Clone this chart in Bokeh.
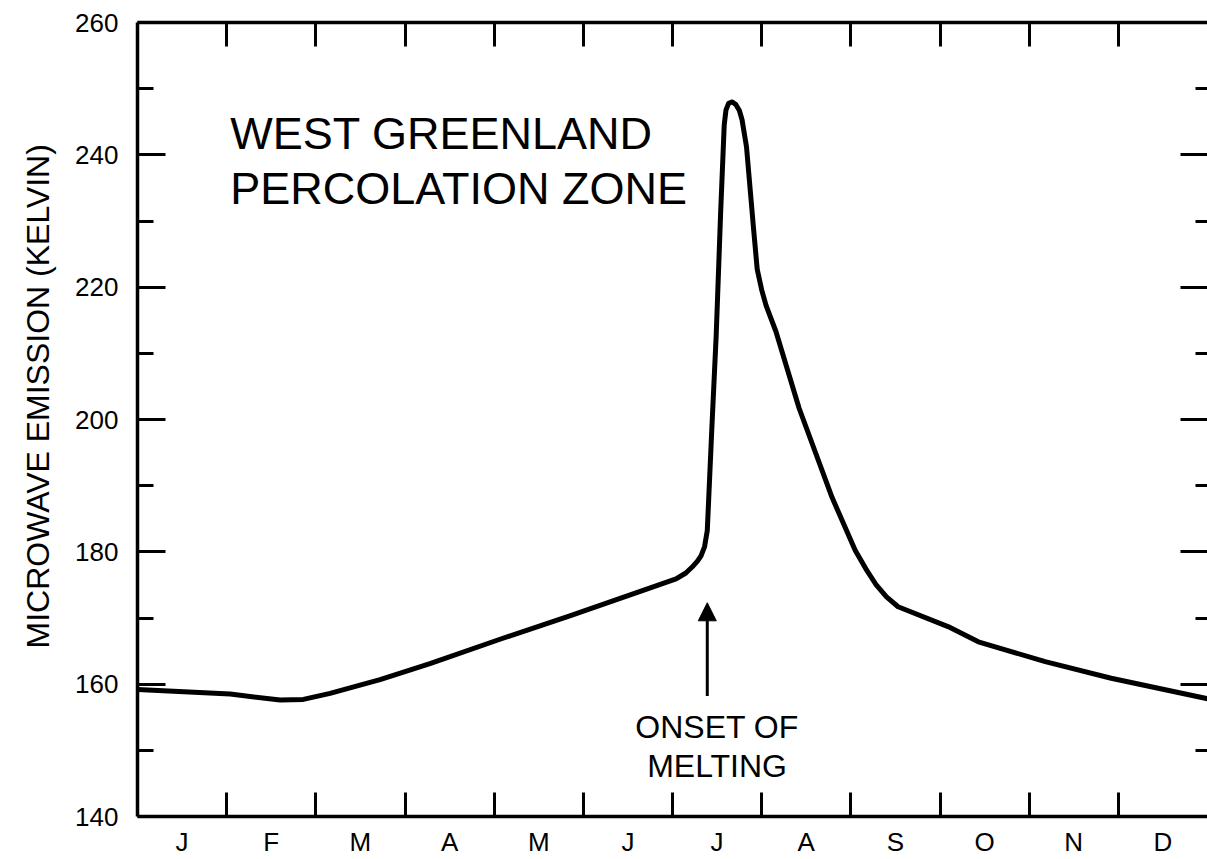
from bokeh.plotting import figure
from bokeh.models import Range1d, LinearAxis, FixedTicker, Label, Arrow, NormalHead, ColumnDataSource, Title
from bokeh.embed import file_html
from bokeh.resources import INLINE

# ---- data ----
month_letters = ["J", "F", "M", "A", "M", "J", "J", "A", "S", "O", "N", "D"]
month_centers = [0.5, 1.5, 2.5, 3.5, 4.5, 5.5, 6.5, 7.5, 8.5, 9.5, 10.5, 11.5]
month_bounds = [1, 2, 3, 4, 5, 6, 7, 8, 9, 10, 11]
y_major = [140, 160, 180, 200, 220, 240, 260]
y_minor = [150, 170, 190, 210, 230, 250]

# time in months since 1 Jan, emission in Kelvin
t_month = [0.0, 1.04, 1.60, 1.86, 2.16, 2.72, 3.28, 4.09, 4.84, 5.59, 6.04, 6.15, 6.22,
           6.28, 6.32, 6.36, 6.39, 6.44, 6.49, 6.54, 6.58, 6.60, 6.63, 6.67, 6.71, 6.75,
           6.78, 6.83, 6.91, 6.95, 7.00, 7.05, 7.16, 7.42, 7.79, 8.05, 8.17, 8.28, 8.40,
           8.53, 9.09, 9.43, 10.18, 10.92, 12.0]
emission_k = [159.2, 158.5, 157.6, 157.7, 158.6, 160.7, 163.1, 166.9, 170.3, 173.8, 175.9, 176.8, 177.7,
              178.6, 179.4, 180.8, 183.2, 198.3, 212.7, 231.3, 244.5, 246.8, 247.8, 248.0, 247.6, 246.7,
              245.3, 241.2, 228.7, 222.7, 219.6, 217.2, 213.3, 201.7, 188.2, 180.2, 177.4, 175.1, 173.2,
              171.7, 168.7, 166.4, 163.4, 160.9, 157.8]

FONT = "Liberation Sans"

p = figure(width=1207, height=859, x_range=Range1d(0, 12), y_range=Range1d(140, 260),
           output_backend="svg", toolbar_location=None,
           min_border_left=137, min_border_right=0, min_border_top=22, min_border_bottom=38)
p.outline_line_color = None
p.grid.visible = False
p.background_fill_color = "white"
p.border_fill_color = "white"

# bottom axis: month letters at mid-month, boundary ticks inward
xa = p.xaxis[0]
xa.ticker = FixedTicker(ticks=month_centers, minor_ticks=month_bounds)
xa.major_label_overrides = {c: m for c, m in zip(month_centers, month_letters)}
xa.major_tick_line_color = None
xa.major_tick_in = 0
xa.major_tick_out = 0
xa.minor_tick_in = 24
xa.minor_tick_out = 0
xa.minor_tick_line_width = 3
xa.minor_tick_line_color = "black"
xa.axis_line_width = 3.5
xa.axis_line_color = "black"
xa.major_label_text_font = FONT
xa.major_label_text_font_size = "26px"
xa.major_label_text_color = "black"
xa.major_label_standoff = 10

# left axis
ya = p.yaxis[0]
ya.ticker = FixedTicker(ticks=y_major, minor_ticks=y_minor)
ya.major_tick_in = 28
ya.major_tick_out = 0
ya.minor_tick_in = 16
ya.minor_tick_out = 0
ya.major_tick_line_width = 3
ya.minor_tick_line_width = 3
ya.minor_tick_line_color = "black"
ya.axis_line_width = 3.5
ya.major_label_text_font = FONT
ya.major_label_text_font_size = "26px"
ya.major_label_text_color = "black"
ya.major_label_standoff = 19

# top axis: month boundary ticks, no labels
top = LinearAxis(ticker=FixedTicker(ticks=month_bounds))
top.major_label_overrides = {b: "" for b in month_bounds}
top.major_tick_in = 24
top.major_tick_out = 0
top.major_tick_line_width = 3
top.axis_line_width = 3.5
top.major_label_standoff = 0
top.major_label_text_font_size = "1px"
p.add_layout(top, "above")

# right axis: inward ticks only (axis line falls off the page edge)
right = LinearAxis(ticker=FixedTicker(ticks=y_major, minor_ticks=y_minor))
right.major_label_overrides = {v: "" for v in y_major}
right.axis_line_color = None
right.major_tick_in = 27
right.major_tick_out = 0
right.minor_tick_in = 12
right.minor_tick_out = 0
right.major_tick_line_width = 3
right.minor_tick_line_width = 3
right.minor_tick_line_color = "black"
right.major_label_standoff = 0
right.major_label_text_font_size = "1px"
p.add_layout(right, "right")

# y axis title on the left
p.add_layout(Title(text="MICROWAVE EMISSION (KELVIN)", align="left", offset=168,
                   text_font=FONT, text_font_size="32px", text_font_style="normal",
                   text_color="black", standoff=33, vertical_align="bottom"), "left")

src = ColumnDataSource(dict(t=t_month, k=emission_k))
p.line("t", "k", source=src, line_width=5, line_color="black",
       line_join="round", line_cap="round")

# annotations
p.add_layout(Label(x=1.04, y=243.2, text="WEST GREENLAND", text_font=FONT,
                   text_font_size="45px", text_color="black", text_baseline="alphabetic"))
p.add_layout(Label(x=1.04, y=234.9, text="PERCOLATION ZONE", text_font=FONT,
                   text_font_size="45px", text_color="black", text_baseline="alphabetic"))
p.add_layout(Label(x=6.5, y=153.6, text="ONSET OF", text_font=FONT, text_align="center",
                   text_font_size="32px", text_color="black", text_baseline="alphabetic"))
p.add_layout(Label(x=6.5, y=147.6, text="MELTING", text_font=FONT, text_align="center",
                   text_font_size="32px", text_color="black", text_baseline="alphabetic"))
p.add_layout(Arrow(end=NormalHead(size=18, fill_color="black", line_color="black"),
                   x_start=6.39, y_start=158.2, x_end=6.39, y_end=172.3,
                   line_width=3, line_color="black"))

open("out.html", "w").write(file_html(p, INLINE))
